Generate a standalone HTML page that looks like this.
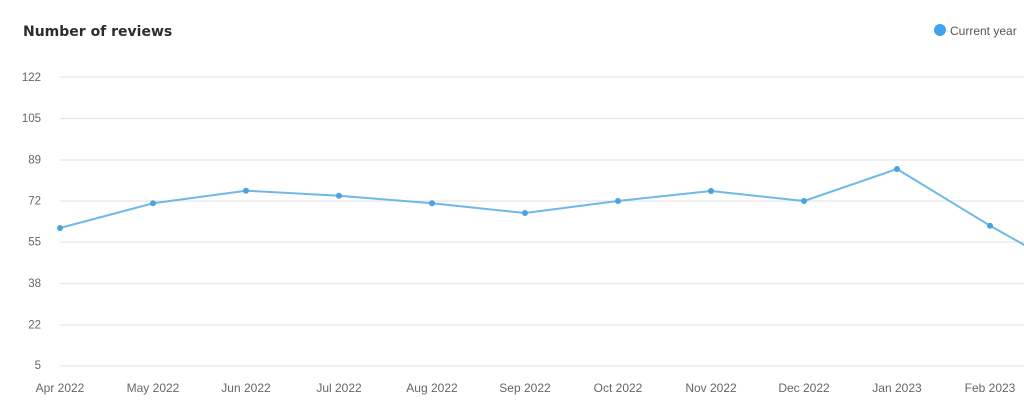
<!DOCTYPE html>
<html><head><meta charset="utf-8"><style>
html,body{margin:0;padding:0;background:#fff;}
body{width:1024px;height:411px;overflow:hidden;}
svg{display:block;}
</style></head><body>
<svg width="1024" height="411" viewBox="0 0 1024 411" xmlns="http://www.w3.org/2000/svg">
<rect width="1024" height="411" fill="#fff"/>
<text x="23" y="36" font-family="DejaVu Sans, Liberation Sans, sans-serif" font-weight="bold" font-size="14" fill="#2d2d2d">Number of reviews</text>
<circle cx="940" cy="30" r="6" fill="#3ea4f0"/>
<text x="950" y="35" font-family="Liberation Sans, sans-serif" font-size="12" fill="#555">Current year</text>
<g stroke="#e8e8e8" stroke-width="1.2">
<line x1="60" y1="77" x2="1024" y2="77"/>
<line x1="60" y1="118.5" x2="1024" y2="118.5"/>
<line x1="60" y1="160" x2="1024" y2="160"/>
<line x1="60" y1="201" x2="1024" y2="201"/>
<line x1="60" y1="242" x2="1024" y2="242"/>
<line x1="60" y1="283.5" x2="1024" y2="283.5"/>
<line x1="60" y1="325" x2="1024" y2="325"/>
<line x1="60" y1="366" x2="1024" y2="366"/>
</g>
<g font-family="Liberation Sans, sans-serif" font-size="11.5" fill="#666" text-anchor="end">
<text x="41" y="81">122</text>
<text x="41" y="122">105</text>
<text x="41" y="163.5">89</text>
<text x="41" y="204.5">72</text>
<text x="41" y="245.5">55</text>
<text x="41" y="287">38</text>
<text x="41" y="328.5">22</text>
<text x="41" y="369">5</text>
</g>
<g font-family="Liberation Sans, sans-serif" font-size="12" fill="#666" text-anchor="middle">
<text x="60" y="392">Apr 2022</text>
<text x="153" y="392">May 2022</text>
<text x="246" y="392">Jun 2022</text>
<text x="339" y="392">Jul 2022</text>
<text x="432" y="392">Aug 2022</text>
<text x="525" y="392">Sep 2022</text>
<text x="618" y="392">Oct 2022</text>
<text x="711" y="392">Nov 2022</text>
<text x="804" y="392">Dec 2022</text>
<text x="897" y="392">Jan 2023</text>
<text x="990" y="392">Feb 2023</text>
</g>
<polyline fill="none" stroke="#6db9e8" stroke-width="2" stroke-linejoin="round" points="60,228 153,203.3 246,190.7 339,195.7 432,203.3 525,213 618,201 711,191 804,201 897,169 990,225.7 1083,278"/>
<g fill="#4aa2de">
<circle cx="60" cy="228" r="3"/>
<circle cx="153" cy="203.3" r="3"/>
<circle cx="246" cy="190.7" r="3"/>
<circle cx="339" cy="195.7" r="3"/>
<circle cx="432" cy="203.3" r="3"/>
<circle cx="525" cy="213" r="3"/>
<circle cx="618" cy="201" r="3"/>
<circle cx="711" cy="191" r="3"/>
<circle cx="804" cy="201" r="3"/>
<circle cx="897" cy="169" r="3"/>
<circle cx="990" cy="225.7" r="3"/>
</g>
</svg>
</body></html>
